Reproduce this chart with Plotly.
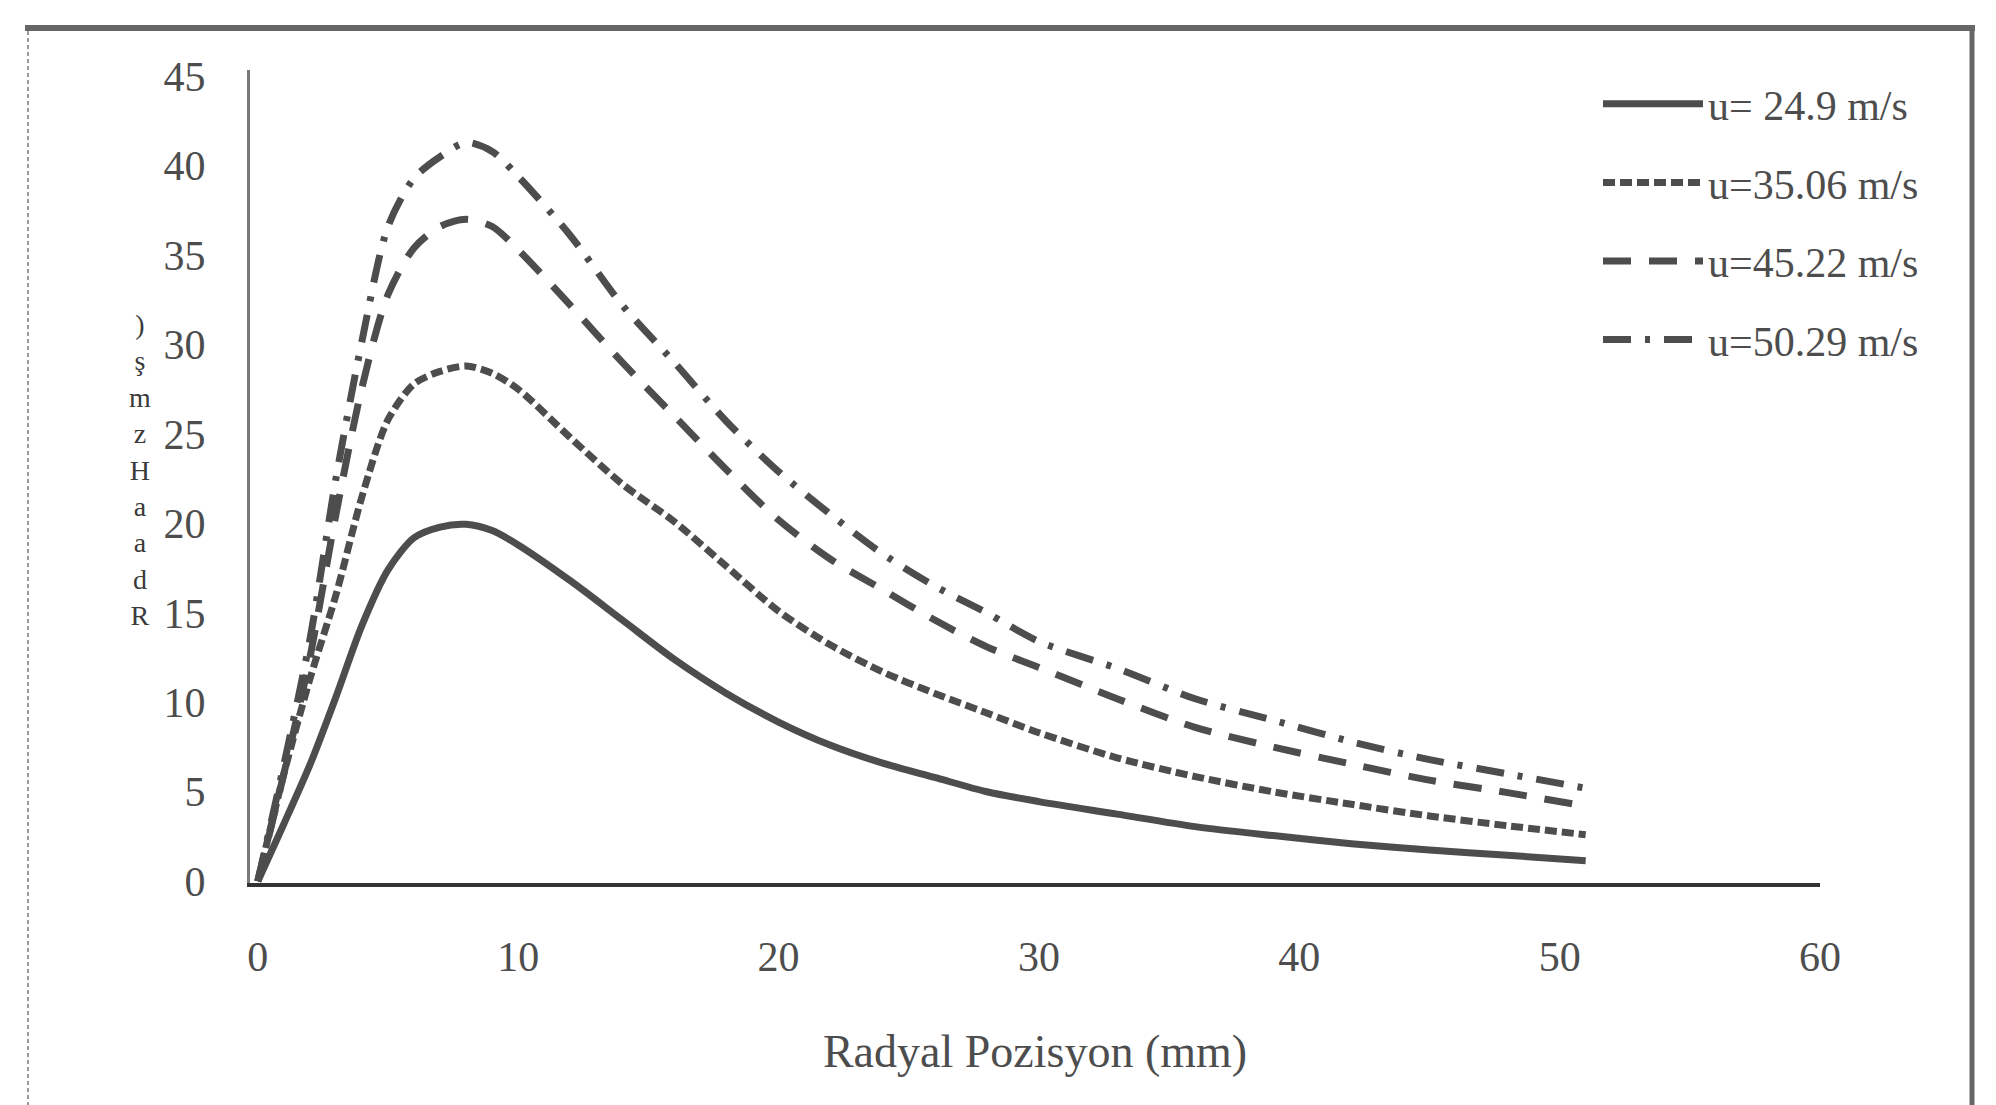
import plotly.graph_objects as go

# ---- data ----
x_mm = [0, 1, 2, 3, 4, 5, 6, 7, 8, 9, 10, 12, 14, 16, 18, 20, 22, 24, 26, 28, 30,
        33, 36, 39, 42, 45, 48, 51]
v_249 = [0, 3.2, 6.5, 10.3, 14.3, 17.4, 19.2, 19.8, 19.95, 19.6, 18.8, 16.8, 14.6,
         12.4, 10.5, 8.9, 7.6, 6.6, 5.8, 5.0, 4.45, 3.75, 3.05, 2.55, 2.1, 1.75, 1.45, 1.15]
v_3506 = [0, 6.0, 11.3, 16.0, 21.5, 25.8, 27.8, 28.5, 28.8, 28.4, 27.5, 24.8, 22.2,
          20.1, 17.6, 15.1, 13.2, 11.7, 10.5, 9.4, 8.3, 6.9, 5.85, 5.0, 4.3, 3.65, 3.1, 2.6]
v_4522 = [0, 6.0, 12.5, 20.5, 27.6, 32.8, 35.4, 36.6, 37.0, 36.6, 35.3, 32.2, 29.0,
          26.0, 23.0, 20.2, 18.0, 16.3, 14.6, 13.1, 11.95, 10.2, 8.6, 7.5, 6.55, 5.65, 4.95, 4.2]
v_5029 = [0, 6.5, 13.5, 22.5, 30.2, 36.6, 39.3, 40.5, 41.3, 40.8, 39.4, 36.1, 32.2,
          29.0, 25.7, 22.9, 20.5, 18.3, 16.5, 15.0, 13.4, 11.9, 10.2, 9.0, 7.8, 6.8, 6.0, 5.2]

series_names = ["u= 24.9 m/s", "u=35.06 m/s", "u=45.22 m/s", "u=50.29 m/s"]
series_values = [v_249, v_3506, v_4522, v_5029]
x_ticks = [0, 10, 20, 30, 40, 50, 60]
y_ticks = [0, 5, 10, 15, 20, 25, 30, 35, 40, 45]
x_title = "Radyal Pozisyon (mm)"
y_title_chars = [")", "ş", "m", "z", "H", "a", "a", "d", "R"]

# ---- styling ----
ink = "#4d4d4d"
dashes = ["solid", "12px,5px", "28px,18px", "28px,14px,5px,14px"]
serif = "Liberation Serif, Times New Roman, serif"

fig = go.Figure()
for i, (name, vals) in enumerate(zip(series_names, series_values)):
    fig.add_trace(go.Scatter(
        x=x_mm, y=vals, mode="lines", name=name,
        line=dict(color=ink, width=7, dash=dashes[i], shape="spline", smoothing=0.8),
        legendgroup=name,
    ))

W, H = 1996, 1105
L, R, T, B = 250, 176, 70, 222
pw, ph = W - L - R, H - T - B

def px_to_paper_x(px):
    return (px - L) / pw

def px_to_paper_y(py):
    return (H - B - py) / ph

fig.update_layout(
    width=W, height=H,
    margin=dict(l=L, r=R, t=T, b=B, pad=0),
    paper_bgcolor="white", plot_bgcolor="white",
    font=dict(family=serif, color=ink, size=42),
    showlegend=True,
    legend=dict(
        x=px_to_paper_x(1598), y=px_to_paper_y(70), xanchor="left", yanchor="top",
        bgcolor="rgba(0,0,0,0)", font=dict(size=42, family=serif, color=ink),
        itemwidth=100, tracegroupgap=21, itemclick=False,
    ),
    xaxis=dict(
        range=[-0.3, 60], tickvals=x_ticks, ticktext=[str(t) for t in x_ticks],
        showgrid=False, zeroline=False, showline=True, linecolor="#333333", linewidth=4,
        ticks="", ticklabelstandoff=34, tickfont=dict(size=42, family=serif, color=ink),
        title=dict(text=x_title, font=dict(size=46, family=serif, color=ink), standoff=56),
    ),
    yaxis=dict(
        range=[-0.1, 45.35], tickvals=y_ticks, ticktext=[str(t) for t in y_ticks],
        showgrid=False, zeroline=False, showline=True, linecolor="#7a7a7a", linewidth=3,
        ticks="", ticklabelstandoff=33, tickfont=dict(size=42, family=serif, color=ink),
    ),
)

# stacked (garbled) y-axis label as in the reference, one character per line
fig.add_annotation(
    text="<br>".join(y_title_chars), xref="paper", yref="paper",
    x=px_to_paper_x(140), y=px_to_paper_y(470),
    showarrow=False, xanchor="center", yanchor="middle", align="center",
    font=dict(size=28, family=serif, color="#3a3a3a"),
)

# outer frame (top and right thick, left thin dashed)
fig.add_shape(type="line", xref="paper", yref="paper",
              x0=px_to_paper_x(25), x1=px_to_paper_x(1975),
              y0=px_to_paper_y(28), y1=px_to_paper_y(28),
              line=dict(color="#666666", width=6))
fig.add_shape(type="line", xref="paper", yref="paper",
              x0=px_to_paper_x(1972), x1=px_to_paper_x(1972),
              y0=px_to_paper_y(25), y1=px_to_paper_y(1105),
              line=dict(color="#666666", width=5))
fig.add_shape(type="line", xref="paper", yref="paper",
              x0=px_to_paper_x(28), x1=px_to_paper_x(28),
              y0=px_to_paper_y(31), y1=px_to_paper_y(1105),
              line=dict(color="#9a9a9a", width=2, dash="4px,3px"))

fig.write_html("out.html")
